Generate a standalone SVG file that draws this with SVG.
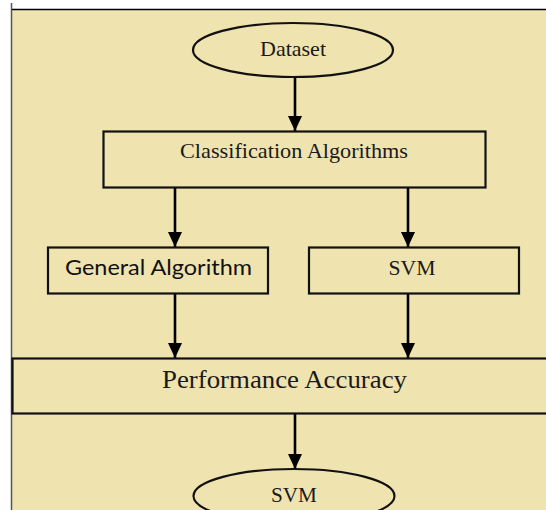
<svg xmlns="http://www.w3.org/2000/svg" width="546" height="510" viewBox="0 0 546 510">
  <style>
    .shape { fill: #EFE3B0; stroke: #111; stroke-width: 2.2; }
    .serif { font-family: "Liberation Serif", "DejaVu Serif", serif; fill: #1a1a1a; text-anchor: middle; }
    .sans { font-family: Lato, "Open Sans", "Liberation Sans", sans-serif; fill: #111; text-anchor: middle; }
    .edge { stroke: #000; stroke-width: 2.6; fill: none; marker-end: url(#arrow); }
  </style>
  <defs>
    <!-- filled triangular head, tip at the end of the line -->
    <marker id="arrow" markerUnits="userSpaceOnUse" markerWidth="16" markerHeight="14" refX="15" refY="7" orient="auto" viewBox="0 0 16 14">
      <path d="M0,0 L15,7 L0,14 Z" fill="#000"/>
    </marker>
  </defs>

  <!-- page -->
  <rect x="0" y="0" width="546" height="510" fill="#ffffff"/>
  <rect x="12" y="10" width="534" height="500" fill="#EFE3B0"/>
  <line x1="11.5" y1="3" x2="11.5" y2="510" stroke="#555" stroke-width="1.5"/>
  <line x1="12" y1="9.5" x2="546" y2="9.5" stroke="#000" stroke-width="1.5"/>

  <!-- connectors -->
  <g id="connectors">
    <path class="edge" d="M295,77 V131"/>
    <path class="edge" d="M175,188 V247"/>
    <path class="edge" d="M408,188 V247"/>
    <path class="edge" d="M175,294 V358"/>
    <path class="edge" d="M408,294 V358"/>
    <path class="edge" d="M295,414 V469"/>
  </g>

  <g id="dataset">
    <ellipse class="shape" cx="293" cy="50" rx="100" ry="27"/>
    <text class="serif" x="293" y="56" font-size="22" textLength="66" lengthAdjust="spacingAndGlyphs">Dataset</text>
  </g>

  <g id="classification">
    <rect class="shape" x="103.5" y="131.5" width="382" height="56"/>
    <text class="serif" x="294" y="158" font-size="22" textLength="228" lengthAdjust="spacingAndGlyphs">Classification Algorithms</text>
  </g>

  <g id="general">
    <rect class="shape" x="48" y="247.5" width="220" height="46"/>
    <text class="sans" x="158.5" y="275" font-size="21" textLength="187" lengthAdjust="spacingAndGlyphs">General Algorithm</text>
  </g>

  <g id="svm-box">
    <rect class="shape" x="309" y="247.5" width="210" height="46"/>
    <text class="serif" x="412" y="275" font-size="21" textLength="47" lengthAdjust="spacingAndGlyphs">SVM</text>
  </g>

  <g id="performance">
    <rect class="shape" x="12.5" y="358.5" width="540" height="55"/>
    <text class="serif" x="284.5" y="388" font-size="25" textLength="245" lengthAdjust="spacingAndGlyphs">Performance Accuracy</text>
  </g>

  <g id="svm-result">
    <ellipse class="shape" cx="294" cy="496" rx="100.5" ry="27"/>
    <text class="serif" x="294" y="502" font-size="21" textLength="46" lengthAdjust="spacingAndGlyphs">SVM</text>
  </g>
</svg>
